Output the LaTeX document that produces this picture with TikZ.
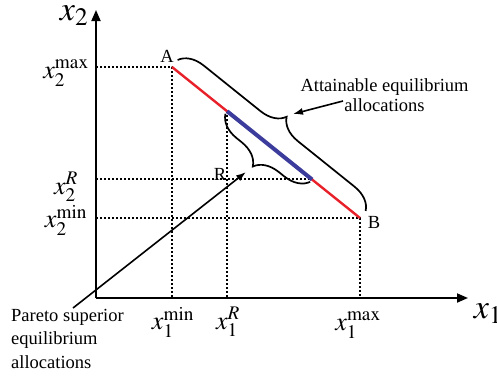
\documentclass[tikz,border=0pt]{standalone}
\usepackage{mathptmx}
\usepackage{fontspec}
\setmainfont{Liberation Serif}
\usetikzlibrary{arrows.meta, calc, decorations.pathreplacing}
\definecolor{edgered}{HTML}{E8202A}
\definecolor{coreblue}{HTML}{3C3C9C}
\tikzset{
  axis/.style={line width=1.8pt, -{Triangle[length=11pt, width=9pt]}},
  guide/.style={line width=2pt, dash pattern=on 2pt off 2pt},
  budget/.style={line width=2.4pt, draw=edgered},
  core/.style={line width=4pt, draw=coreblue},
  curly/.style={decorate, decoration={brace, amplitude=#1}, line width=1.7pt},
  pointer/.style={line width=1.6pt, -{Latex[length=10pt, width=7pt]}},
  note/.style={font=\fontsize{18.5}{20}\selectfont, inner sep=0pt},
  tick/.style={font=\fontsize{26}{28}\selectfont, inner sep=0pt},
  axlabel/.style={font=\fontsize{34}{36}\selectfont, inner sep=0pt}
}
\begin{document}
\begin{tikzpicture}[x=1pt, y=-1pt]
\useasboundingbox[fill=white] (0,0) rectangle (497,383);
\coordinate (O) at (96,298);
\coordinate (ytop) at (96,10);
\coordinate (xend) at (468,298);
\coordinate (A) at (172,67);
\coordinate (B) at (360,218);
\coordinate (P) at ($(A)!0.293!(B)$);
\coordinate (Q) at ($(A)!0.745!(B)$);
\coordinate (R) at (P |- Q);
% axes
\draw[axis] (O) -- (ytop);
\draw[axis] (O) -- (xend);
\node[axlabel] (xtwo) at (74,16) {$x_2$};
\node[axlabel] (xone) at (488,314) {$x_1$};
% dotted guides
\draw[guide] (O |- A) -- (A) -- (A |- O);
\draw[guide] (O |- Q) -- (Q);
\draw[guide] (P) -- (P |- O);
\draw[guide] (O |- B) -- (B) -- (B |- O);
% allocation line
\draw[budget] (A) -- (B);
\draw[core] (P) -- (Q);
\node[note] (lA) at (167,56) {A};
\node[note] (lB) at (374,222) {B};
\node[note] (lR) at (220,174) {R};
% braces
\draw[curly=24pt] ($(A)!9pt!90:(B)$) -- ($(B)!9pt!-90:(A)$);
\draw[curly=24pt] ($(Q)!3pt!90:(P)$) -- ($(P)!3pt!-90:(Q)$);
% tick labels
\node[tick] (x2max) at (66,73) {$x_2^{\mathrm{max}}$};
\node[tick] (x2R) at (66,187) {$x_2^{R}$};
\node[tick] (x2min) at (66,220) {$x_2^{\mathrm{min}}$};
\node[tick] (x1min) at (173,322) {$x_1^{\mathrm{min}}$};
\node[tick] (x1R) at (228,322) {$x_1^{R}$};
\node[tick] (x1max) at (358,325) {$x_1^{\mathrm{max}}$};
% notes
\node[note, align=center, anchor=north] (att) at (384.5,78) {Attainable equilibrium\\allocations};
\node[note, align=left, anchor=north west, font=\fontsize{18.5}{23.3}\selectfont] (par) at (11,309)
  {Pareto superior\\equilibrium\\allocations};
\coordinate (atttail) at (343,101);
\coordinate (atthead) at (293,114);
\coordinate (partail) at (73,308);
\coordinate (parhead) at (246,172);
\draw[pointer] (atttail) -- (atthead);
\draw[pointer] (partail) -- (parhead);
\end{tikzpicture}
\end{document}
